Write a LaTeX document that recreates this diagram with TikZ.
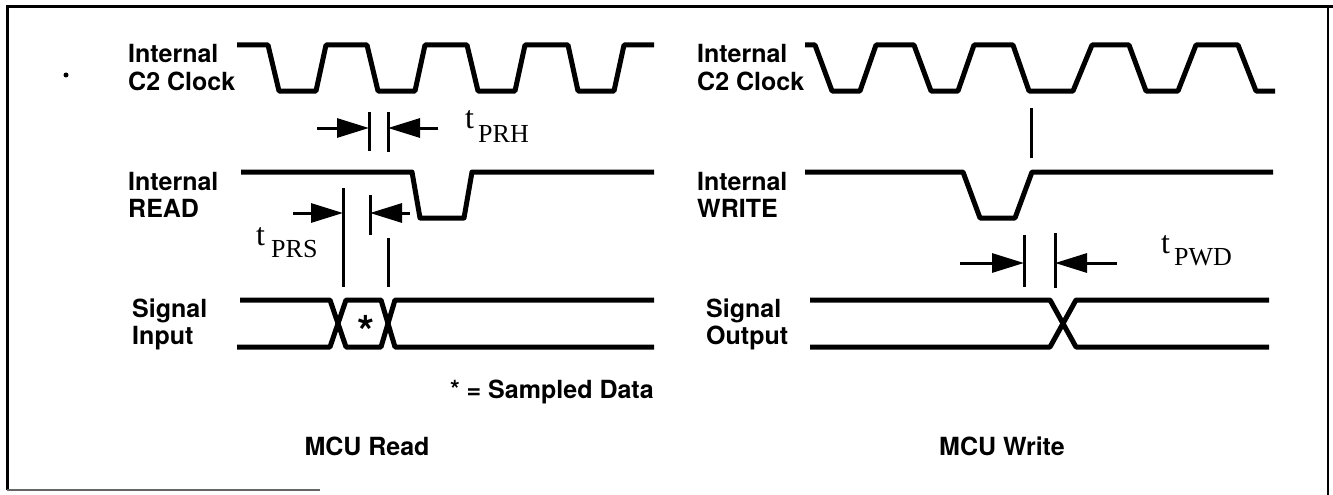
\documentclass[tikz,border=0pt]{standalone}
\usepackage{fontspec}
\setmainfont{Liberation Serif}
\newfontfamily\lblfamily{TeX Gyre Heros}
\usetikzlibrary{arrows.meta}
\tikzset{
  sig/.style={line width=5pt, line join=round},
  mk/.style={line width=3pt},
  darrow/.style={line width=3pt, -{Triangle[length=32pt,width=19pt]}},
  lbl/.style={font=\lblfamily\bfseries\fontsize{25}{27}\selectfont, anchor=base west, inner sep=0pt},
  tlbl/.style={font=\fontsize{32}{34}\selectfont, anchor=base west, inner sep=0pt},
  sublbl/.style={font=\fontsize{26}{28}\selectfont, anchor=base west, inner sep=0pt},
  frame/.style={line width=3pt}
}
\begin{document}
\begin{tikzpicture}[x=1pt,y=-1pt]
\useasboundingbox (0,0) rectangle (1333,495);
% frame
\draw[frame] (1333,7) -- (7,7) -- (7,490);
\draw[line width=2pt, black!60] (7,490) -- (320,490);
\draw[line width=1.5pt] (1328,7) -- (1328,495);
\fill (66,75) circle (2.5pt);

% ---------- MCU Read ----------
\node[lbl] (l1a) at (128,63) {Internal};
\node[lbl] (l1b) at (128,90) {C2 Clock};
\node[lbl] (l2a) at (128,190) {Internal};
\node[lbl] (l2b) at (128,217) {READ};
\node[lbl] (l3a) at (132,317) {Signal};
\node[lbl] (l3b) at (132,344) {Input};

\draw[sig] (237,45) -- (268,45) -- (279,91) -- (316,91) -- (326,45) -- (367,45) -- (378,91) -- (415,91) -- (425,45) -- (467,45) -- (478,91) -- (515,91) -- (525,45) -- (568,45) -- (578,91) -- (614,91) -- (624,45) -- (654,45);
\draw[sig] (241,172) -- (412,172) -- (420,218) -- (464,218) -- (472,172) -- (654,172);
\draw[sig] (240,300) -- (330,300) -- (346,347) -- (381,347) -- (395,300) -- (654,300);
\draw[sig] (237,347) -- (330,347) -- (346,300) -- (381,300) -- (395,347) -- (654,347);

% tPRH
\coordinate (h1t) at (369,112); \coordinate (h1b) at (369,151);
\coordinate (h2t) at (388,112); \coordinate (h2b) at (388,152);
\draw[mk] (h1t) -- (h1b);
\draw[mk] (h2t) -- (h2b);
\coordinate (ha) at (317,128); \coordinate (hb) at (438,128);
\draw[darrow] (ha) -- (h1t |- ha);
\draw[darrow] (hb) -- (h2t |- hb);
\node[tlbl] (tprh) at (465,128) {t};
\node[sublbl] (tprhs) at (478,142) {PRH};

% tPRS
\coordinate (s1t) at (343,188); \coordinate (s1b) at (343,287);
\coordinate (s2t) at (370,195); \coordinate (s2b) at (370,235);
\coordinate (s3t) at (388,238); \coordinate (s3b) at (388,287);
\draw[mk] (s1t) -- (s1b);
\draw[mk] (s2t) -- (s2b);
\draw[mk] (s3t) -- (s3b);
\coordinate (sa) at (293,213); \coordinate (sb) at (410,213);
\draw[darrow] (sa) -- (s1t |- sa);
\draw[darrow] (sb) -- (s2t |- sb);
\node[tlbl] (tprs) at (256,245) {t};
\node[sublbl] (tprss) at (271,257) {PRS};

\node[font=\lblfamily\bfseries\fontsize{44}{44}\selectfont, inner sep=0pt] (star) at (366,331) {*};
\node[lbl, anchor=base east] (samp) at (654,398) {* = Sampled Data};
\node[lbl, anchor=base] (mcur) at (367,455) {MCU Read};

% ---------- MCU Write ----------
\node[lbl] (r1a) at (697,63) {Internal};
\node[lbl] (r1b) at (697,90) {C2 Clock};
\node[lbl] (r2a) at (697,190) {Internal};
\node[lbl] (r2b) at (697,217) {WRITE};
\node[lbl] (r3a) at (706,317) {Signal};
\node[lbl] (r3b) at (706,344) {Output};

\draw[sig] (805,45) -- (815,45) -- (832,91) -- (860,91) -- (876,45) -- (914,45) -- (931,91) -- (958,91) -- (974,45) -- (1013,45) -- (1029,91) -- (1073,91) -- (1092,45) -- (1129,45) -- (1146,91) -- (1178,91) -- (1196,45) -- (1238,45) -- (1256,91) -- (1275,91);
\draw[sig] (805,172) -- (963,172) -- (980,218) -- (1015,218) -- (1032,172) -- (1273,172);
\draw[sig] (810,300) -- (1050,300) -- (1076,347) -- (1269,347);
\draw[sig] (810,347) -- (1050,347) -- (1076,300) -- (1269,300);

\coordinate (wt) at (1031,108); \coordinate (wb) at (1031,158);
\draw[mk] (wt) -- (wb);

% tPWD
\coordinate (d1t) at (1024,235); \coordinate (d1b) at (1024,287);
\coordinate (d2t) at (1055,233); \coordinate (d2b) at (1055,288);
\draw[mk] (d1t) -- (d1b);
\draw[mk] (d2t) -- (d2b);
\coordinate (da) at (960,263); \coordinate (db) at (1117,263);
\draw[darrow] (da) -- (d1t |- da);
\draw[darrow] (db) -- (d2t |- db);
\node[tlbl] (tpwd) at (1161,253) {t};
\node[sublbl] (tpwds) at (1174,265) {PWD};

\node[lbl, anchor=base] (mcuw) at (1002,455) {MCU Write};
\end{tikzpicture}
\end{document}
